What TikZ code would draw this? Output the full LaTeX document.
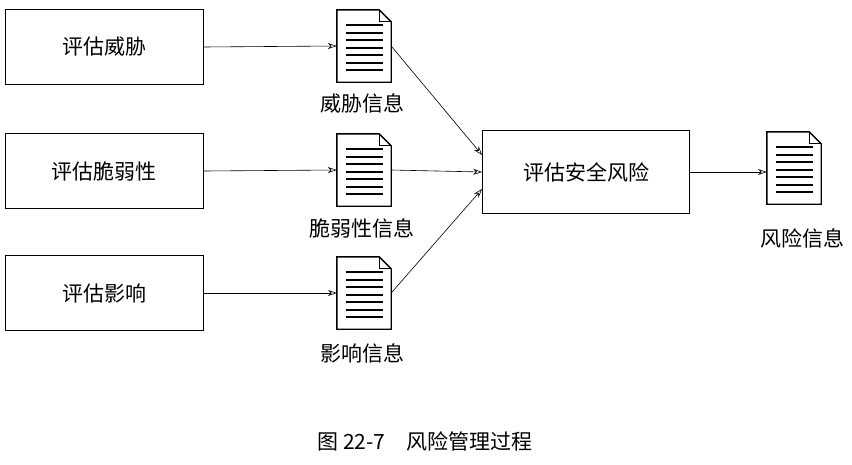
\documentclass[tikz,border=0pt]{standalone}
\usepackage{fontspec}
\newfontfamily\cjk{Noto Sans CJK SC}
\usetikzlibrary{arrows.meta}
\tikzset{
 box/.style={draw,thick,minimum width=198pt,minimum height=75pt,font=\cjk\fontsize{21}{24}\selectfont},
 doc/.style={minimum width=54pt,minimum height=72pt,inner sep=0pt},
 lbl/.style={font=\cjk\fontsize{21}{24}\selectfont},
 arr/.style={-{Stealth[open,length=9pt,width=6pt]},line width=0.6pt}
}
\newcommand{\mydoc}[1]{%
 \draw[line width=1.4pt] (#1.south west) -- (#1.north west) -- ([xshift=-12pt]#1.north east) -- ([yshift=-12pt]#1.north east) -- (#1.south east) -- cycle;
 \draw[line width=1pt] ([xshift=-12pt]#1.north east) -- ([xshift=-12pt,yshift=-12pt]#1.north east) -- ([yshift=-12pt]#1.north east);
 \foreach \k in {1,...,7}{\draw[line width=2.2pt] ([xshift=9pt,yshift=-8pt-7.5*\k pt]#1.north west) -- ([xshift=-8pt,yshift=-8pt-7.5*\k pt]#1.north east);}
}
\begin{document}
\begin{tikzpicture}[x=1pt,y=-1pt]
\useasboundingbox (0,0) rectangle (852,464);
\node[box] (b1) at (104,47) {评估威胁};
\node[box] (b2) at (104,171) {评估脆弱性};
\node[box] (b3) at (104,293) {评估影响};
\node[box,minimum width=207pt,minimum height=83pt] (c) at (586,172) {评估安全风险};
\node[doc] (d1) at (364,46) {}; \mydoc{d1}
\node[doc] (d2) at (364,170) {}; \mydoc{d2}
\node[doc] (d3) at (364,293) {}; \mydoc{d3}
\node[doc] (d4) at (794,168) {}; \mydoc{d4}
\node[lbl] (l1) at (362,103) {威胁信息};
\node[lbl] (l2) at (362,228) {脆弱性信息};
\node[lbl] (l3) at (362,353) {影响信息};
\node[lbl] (l4) at (802,238) {风险信息};
\node[lbl] (cap) at (425,441) {图 22-7\quad 风险管理过程};
\draw[arr] (b1.east) -- (d1.west);
\draw[arr] (b2.east) -- (d2.west);
\draw[arr] (b3.east) -- (d3.west);
\draw[arr] (d1.east) -- ([yshift=17pt]c.west);
\draw[arr] (d2.east) -- (c.west);
\draw[arr] (d3.east) -- ([yshift=-17pt]c.west);
\draw[arr] (c.east) -- (d4.west |- c.east);
\end{tikzpicture}
\end{document}
